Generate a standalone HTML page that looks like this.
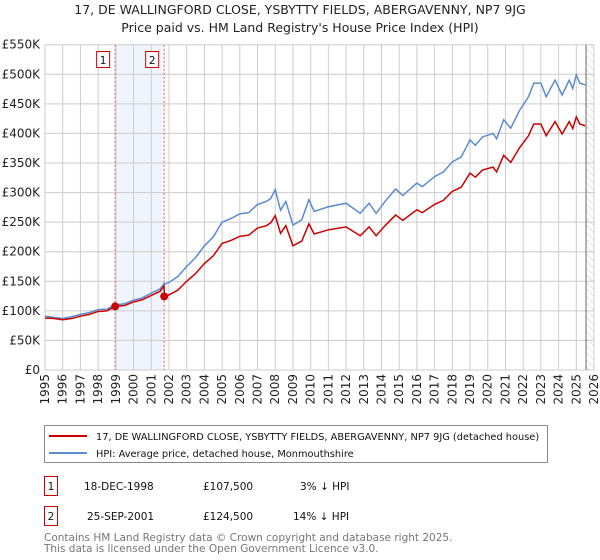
<!DOCTYPE html>
<html><head><meta charset="utf-8"><style>
body{margin:0;background:#fff;}
svg{display:block;font-family:"DejaVu Sans","Liberation Sans",sans-serif;}
</style></head><body>
<svg id="c" width="600" height="560" viewBox="0 0 600 560">
<text x="300" y="14" text-anchor="middle" font-size="12.5" fill="#222">17, DE WALLINGFORD CLOSE, YSBYTTY FIELDS, ABERGAVENNY, NP7 9JG</text>
<text x="300" y="32" text-anchor="middle" font-size="12.5" fill="#222">Price paid vs. HM Land Registry's House Price Index (HPI)</text>
<defs><pattern id="hatch" width="5" height="5" patternUnits="userSpaceOnUse" patternTransform="rotate(-45)"><line x1="0" y1="0" x2="0" y2="5" stroke="#ccc" stroke-width="1"/></pattern></defs>
<g id="grid"></g><g id="marks"></g><g id="axes"></g>
<rect x="44.5" y="425.5" width="503" height="37" fill="none" stroke="#888"/>
<line x1="49" y1="436" x2="87" y2="436" stroke="#cc0000" stroke-width="2"/>
<text x="96" y="440" font-size="9.8" fill="#111">17, DE WALLINGFORD CLOSE, YSBYTTY FIELDS, ABERGAVENNY, NP7 9JG (detached house)</text>
<line x1="49" y1="453" x2="87" y2="453" stroke="#5b8bd0" stroke-width="2"/>
<text x="96" y="457" font-size="9.8" fill="#111">HPI: Average price, detached house, Monmouthshire</text>
<g font-size="10.5" fill="#111">
<rect x="44.5" y="476.5" width="13" height="19" fill="#fff" stroke="#cc0000"/>
<text x="51" y="490" text-anchor="middle">1</text>
<text x="84" y="490">18-DEC-1998</text><text x="203" y="490">£107,500</text><text x="300" y="490">3% ↓ HPI</text></g>
<g font-size="10.5" fill="#111">
<rect x="44.5" y="506.5" width="13" height="19" fill="#fff" stroke="#cc0000"/>
<text x="51" y="520" text-anchor="middle">2</text>
<text x="87" y="520">25-SEP-2001</text><text x="203" y="520">£124,500</text><text x="293" y="520">14% ↓ HPI</text></g>
<text x="44" y="541" font-size="10.5" fill="#777">Contains HM Land Registry data © Crown copyright and database right 2025.</text>
<text x="44" y="552" font-size="10.5" fill="#777">This data is licensed under the Open Government Licence v3.0.</text>
</svg>
<script>
const yTicks=[0,50,100,150,200,250,300,350,400,450,500,550];
const yTickLabels=["£0","£50K","£100K","£150K","£200K","£250K","£300K","£350K","£400K","£450K","£500K","£550K"];
const xYears=[1995,1996,1997,1998,1999,2000,2001,2002,2003,2004,2005,2006,2007,2008,2009,2010,2011,2012,2013,2014,2015,2016,2017,2018,2019,2020,2021,2022,2023,2024,2025,2026];
const dates=[1995,1995.5,1996,1996.5,1997,1997.5,1998,1998.5,1998.96,1999.5,2000,2000.5,2001,2001.5,2001.72,2001.74,2002,2002.5,2003,2003.5,2004,2004.5,2005,2005.5,2006,2006.5,2007,2007.5,2007.75,2008,2008.3,2008.6,2009,2009.5,2009.9,2010.2,2011,2012,2012.8,2013.3,2013.7,2014.2,2014.8,2015.2,2016,2016.3,2017,2017.5,2018,2018.5,2019,2019.3,2019.7,2020.3,2020.5,2020.9,2021.3,2021.8,2022.3,2022.6,2023,2023.3,2023.8,2024.2,2024.6,2024.8,2025,2025.2,2025.5];
const hpiValues=[91,89,87,90,94,97,102,103,110,112,118,122,130,137,146,145,148,158,175,190,210,225,250,256,264,266,280,285,290,305,270,285,245,254,288,268,276,282,265,282,265,285,306,295,316,310,327,335,352,360,389,380,394,400,391,423,409,439,462,485,485,462,490,465,490,476,499,485,482];
const priceValues=[88,87,85,87,91,94,99,100,107.5,109,115,119,126,133,142,124.5,127,135,150,163,180,193,214,219,226,228,240,244,249,261,231,244,210,218,247,230,237,242,227,242,227,244,262,253,271,266,280,287,302,309,333,326,338,343,335,363,351,376,396,416,416,396,420,399,420,408,428,416,413];
const saleDates=[1998.96,2001.73];
const saleValues=[107.5,124.5];
const saleLabels=["1","2"];

const X0=45,X1=594,Y0=370,Y1=44.7;
const xs=t=>X0+(t-1995)/(2026-1995)*(X1-X0);
const ys=v=>Y0-v/550*(Y0-Y1);
const NS="http://www.w3.org/2000/svg";
function mk(tag,attrs,parent){const e=document.createElementNS(NS,tag);for(const k in attrs)e.setAttribute(k,attrs[k]);parent.appendChild(e);return e;}
const grid=document.getElementById('grid'),marks=document.getElementById('marks'),axes=document.getElementById('axes');

const band=mk('rect',{x:xs(saleDates[0]),y:Y1,width:xs(saleDates[1])-xs(saleDates[0]),height:Y0-Y1,fill:'#f0f4fd'},grid);


const hatch=mk('rect',{x:xs(2025.55),y:Y1,width:X1-xs(2025.55),height:Y0-Y1,fill:'url(#hatch)'},grid);



yTicks.forEach((v,i)=>{
 const l=mk('line',{x1:X0,x2:X1,y1:ys(v),y2:ys(v),stroke:'#ccc','stroke-width':1},grid);
 
 
 const t=mk('text',{x:40,y:ys(v)+4,'text-anchor':'end','font-size':12,fill:'#222'},axes);
 t.textContent=yTickLabels[i];
 
 
});
xYears.forEach(yr=>{
 const l=mk('line',{x1:xs(yr),x2:xs(yr),y1:Y1,y2:Y0,stroke:'#ccc','stroke-width':1},grid);
 
 
 const t=mk('text',{x:0,y:0,'text-anchor':'end','font-size':12,fill:'#222',transform:`translate(${xs(yr)+4},374) rotate(-90)`},axes);
 t.textContent=yr;
 
 
});
const nowLine=mk('line',{x1:xs(2025.55),x2:xs(2025.55),y1:Y1,y2:Y0,stroke:'#666','stroke-width':1},grid);



saleDates.forEach((d,i)=>{
 const l=mk('line',{x1:xs(d),x2:xs(d),y1:Y1,y2:Y0,stroke:'#e55','stroke-width':1,'stroke-dasharray':'2,2'},marks);
 
 
 const r=mk('rect',{x:xs(d)-18.5,y:51.5,width:13,height:16,fill:'#fff',stroke:'#cc0000'},marks);
 
 
 const t=mk('text',{x:xs(d)-12,y:64,'text-anchor':'middle','font-size':10.5,fill:'#111'},marks);
 t.textContent=saleLabels[i];
 
 
});

const hp=mk('polyline',{points:dates.map((d,i)=>xs(d)+','+ys(hpiValues[i])).join(' '),fill:'none',stroke:'#5b8bd0','stroke-width':1.5},marks);


const pp=mk('polyline',{points:dates.map((d,i)=>xs(d)+','+ys(priceValues[i])).join(' '),fill:'none',stroke:'#cc0000','stroke-width':1.5},marks);


saleDates.forEach((d,i)=>{
 const c=mk('circle',{cx:xs(d),cy:ys(saleValues[i]),r:4,fill:'#cc0000'},marks);
 
 
});
</script>
</body></html>
